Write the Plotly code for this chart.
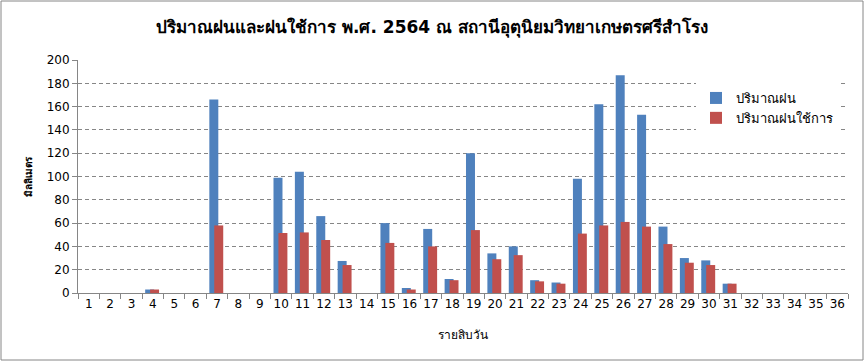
import plotly.graph_objects as go

periods = [str(i) for i in range(1, 37)]
rain = [0, 0, 0, 3, 0, 0, 166, 0, 0, 99, 104, 66, 27.5, 0, 60, 4.3, 55, 12, 120, 34,
        40, 11, 9, 98, 162, 187, 153, 57, 30, 28, 8, 0, 0, 0, 0, 0]
effective = [0, 0, 0, 3, 0, 0, 58, 0, 0, 51.5, 52, 45.5, 24, 0, 43, 3, 40, 11, 54, 29,
             32.5, 10, 8, 51, 58, 61, 57, 42, 26, 24, 8, 0, 0, 0, 0, 0]
y_ticks = list(range(0, 201, 20))

FONT = "Tahoma, DejaVu Sans, Noto Sans, sans-serif"

fig = go.Figure()
fig.add_trace(go.Bar(x=periods, y=rain, name="ปริมาณฝน", marker_color="#4F81BD",
                     width=0.42, offset=-0.36, marker_line_width=0))
fig.add_trace(go.Bar(x=periods, y=effective, name="ปริมาณฝนใช้การ", marker_color="#C0504D",
                     width=0.42, offset=-0.13, marker_line_width=0))

W, H = 864, 361
L, R, T, B = 78, 16, 60, 68
pw, ph = W - L - R, H - T - B

fig.update_layout(
    width=W, height=H,
    margin=dict(l=L, r=R, t=T, b=B, autoexpand=False),
    barmode="overlay",
    paper_bgcolor="white", plot_bgcolor="white",
    font=dict(family=FONT, size=12, color="black"),
    title=dict(text="<b>ปริมาณฝนและฝนใช้การ พ.ศ. 2564 ณ สถานีอุตุนิยมวิทยาเกษตรศรีสำโรง</b>",
               x=0.5, xanchor="center", y=1 - 27 / H, yanchor="middle",
               font=dict(family=FONT, size=17, color="black")),
    xaxis=dict(type="category", categoryorder="array", categoryarray=periods,
               showline=True, linecolor="#868686", ticks="outside", tickson="boundaries",
               tickcolor="#868686", ticklen=5, showgrid=False, tickangle=0,
               automargin=False,
               title=dict(text="รายสิบวัน", font=dict(size=12), standoff=20),
               tickfont=dict(size=12)),
    yaxis=dict(range=[0, 200], tickvals=y_ticks, showline=True, linecolor="#868686",
               ticks="outside", tickcolor="#868686", ticklen=5, automargin=False,
               showgrid=True, gridcolor="#868686", griddash="4px,3px", gridwidth=1,
               zeroline=False,
               title=dict(text="<b>มิลลิเมตร</b>", font=dict(size=10), standoff=12),
               tickfont=dict(size=12)),
    legend=dict(x=(696 - L) / pw, y=(293 - 83) / ph, xanchor="left", yanchor="top",
                bgcolor="white", font=dict(size=13), itemwidth=30,
                tracegroupgap=4),
    showlegend=True,
)

fig.add_shape(type="rect", xref="paper", yref="paper",
              x0=-(L - 1) / pw, x1=1 + (R - 1) / pw,
              y0=-(B - 1) / ph, y1=1 + (T - 1) / ph,
              line=dict(color="#868686", width=1), fillcolor="rgba(0,0,0,0)", layer="below")

fig.write_html("out.html", config={"displayModeBar": False},
               post_script="document.body.style.margin='0px';")
